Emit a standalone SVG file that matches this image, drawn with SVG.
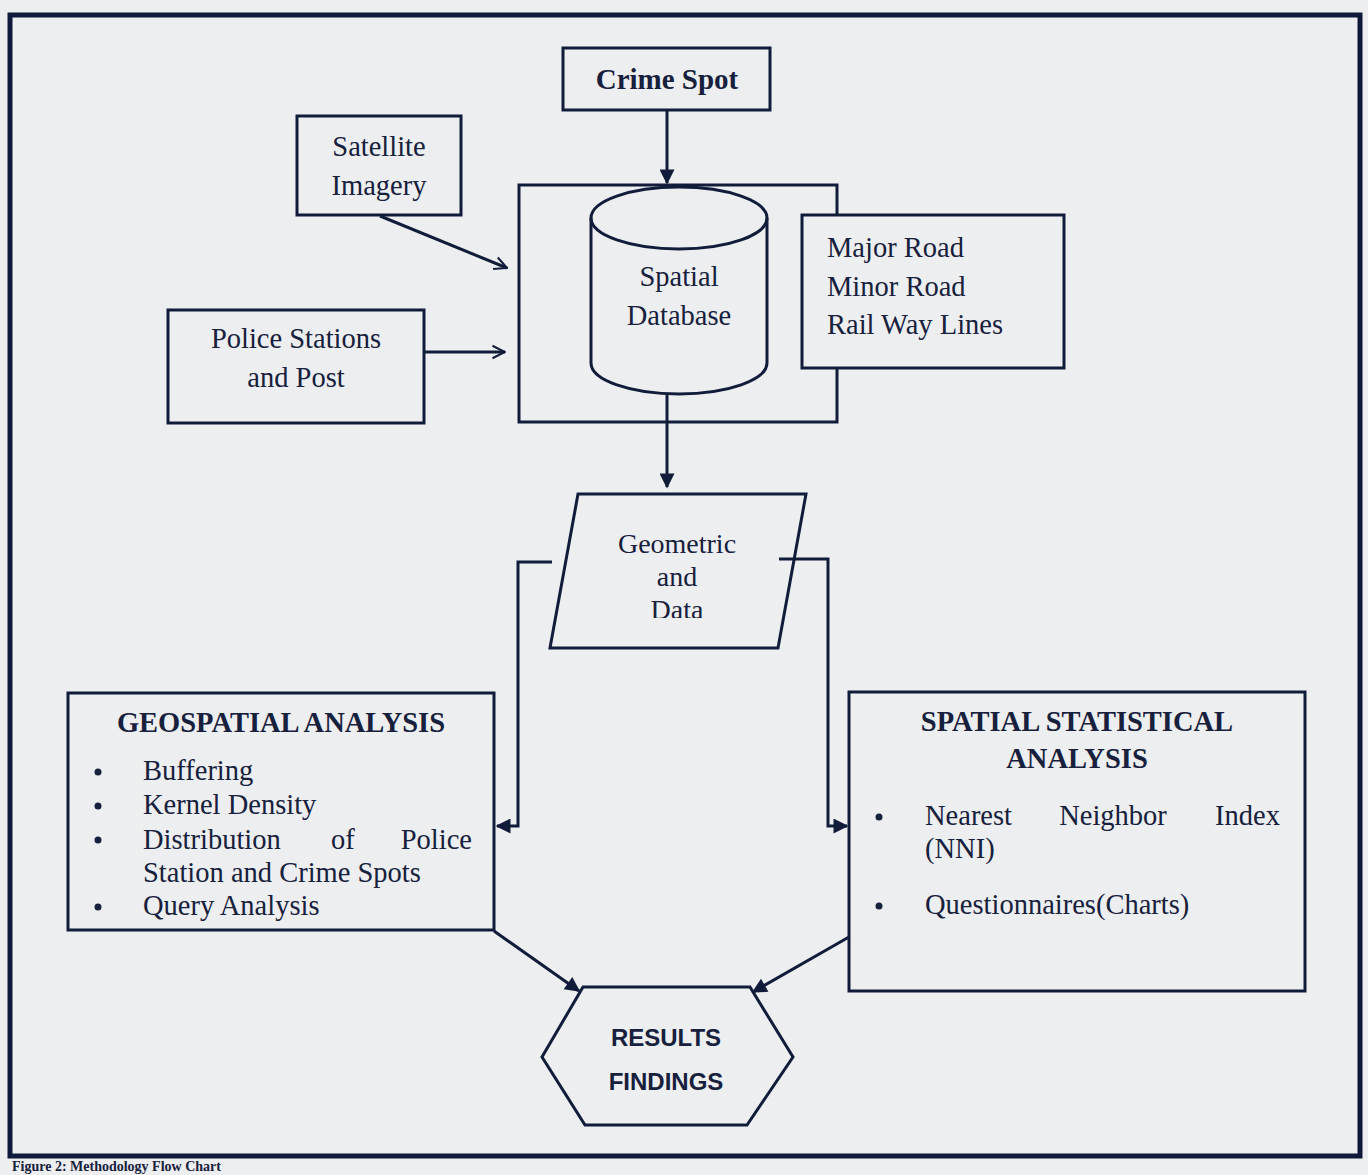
<svg xmlns="http://www.w3.org/2000/svg" width="1368" height="1175" viewBox="0 0 1368 1175">
<defs>
<style>
.bx{fill:none;stroke:#111c3a;stroke-width:3}
.ln{fill:none;stroke:#111c3a;stroke-width:3}
.t{font-family:"Liberation Serif","Times New Roman",serif;fill:#17203c;font-size:28.5px}
.c{text-anchor:middle}
.b{font-weight:bold}
.s{font-family:"Liberation Sans",Arial,sans-serif;font-weight:bold;fill:#17203c;font-size:24px;text-anchor:middle}
</style>
<marker id="fa" viewBox="0 0 10 10" refX="9" refY="5" markerWidth="5.5" markerHeight="5" orient="auto" markerUnits="strokeWidth">
<path d="M0,0 L10,5 L0,10 Z" fill="#111c3a"/>
</marker>
<marker id="oa" viewBox="0 0 12 12" refX="11" refY="6" markerWidth="5" markerHeight="6" orient="auto" markerUnits="strokeWidth">
<path d="M1,1 L11,6 L1,11" fill="none" stroke="#111c3a" stroke-width="1.6"/>
</marker>
<clipPath id="pc"><rect x="540" y="490" width="280" height="128"/></clipPath>
</defs>
<rect width="1368" height="1175" fill="#eceeef"/>
<rect x="10" y="15" width="1350" height="1141" fill="none" stroke="#0f1a3a" stroke-width="5"/>

<g id="crime-spot">
<rect class="bx" x="563" y="48" width="207" height="62"/>
<text class="t b c" x="667" y="89" style="font-size:29px">Crime Spot</text>
</g>
<g id="satellite-imagery">
<rect class="bx" x="297" y="116" width="164" height="99"/>
<text class="t c" x="379" y="156">Satellite</text>
<text class="t c" x="379" y="195">Imagery</text>
</g>
<g id="police-stations">
<rect class="bx" x="168" y="310" width="256" height="113"/>
<text class="t c" x="296" y="348">Police Stations</text>
<text class="t c" x="296" y="387">and Post</text>
</g>
<g id="spatial-database">
<rect class="bx" x="519" y="185" width="318" height="237"/>
<path class="bx" d="M591,218 A88,31 0 0 1 767,218 L767,363 A88,31 0 0 1 591,363 Z"/>
<path class="bx" d="M591,218 A88,31 0 0 0 767,218"/>
<text class="t c" x="679" y="286">Spatial</text>
<text class="t c" x="679" y="325">Database</text>
</g>
<g id="roads">
<rect class="bx" x="802" y="215" width="262" height="153" style="fill:#eceeef"/>
<text class="t" x="827" y="257">Major Road</text>
<text class="t" x="827" y="296">Minor Road</text>
<text class="t" x="827" y="334">Rail Way Lines</text>
</g>
<g id="geometric-data">
<path class="bx" d="M578,494 L806,494 L778,648 L550,648 Z"/>
<g clip-path="url(#pc)">
<text class="t c" x="677" y="553" style="font-size:28px">Geometric</text>
<text class="t c" x="677" y="586" style="font-size:28px">and</text>
<text class="t c" x="677" y="619" style="font-size:28px">Data</text>
</g>
</g>
<g id="geospatial-analysis">
<rect class="bx" x="68" y="693" width="426" height="237"/>
<text class="t b c" x="281" y="732">GEOSPATIAL ANALYSIS</text>
<circle cx="98" cy="772" r="3.5" fill="#17203c"/>
<circle cx="98" cy="806" r="3.5" fill="#17203c"/>
<circle cx="98" cy="840" r="3.5" fill="#17203c"/>
<circle cx="98" cy="907" r="3.5" fill="#17203c"/>
<text class="t" x="143" y="780">Buffering</text>
<text class="t" x="143" y="814">Kernel Density</text>
<text class="t" x="143" y="849">Distribution</text>
<text class="t" x="331" y="849">of</text>
<text class="t" x="472" y="849" text-anchor="end">Police</text>
<text class="t" x="143" y="882">Station and Crime Spots</text>
<text class="t" x="143" y="915">Query Analysis</text>
</g>
<g id="spatial-statistical-analysis">
<rect class="bx" x="849" y="692" width="456" height="299"/>
<text class="t b c" x="1077" y="731">SPATIAL STATISTICAL</text>
<text class="t b c" x="1077" y="768">ANALYSIS</text>
<circle cx="879" cy="817" r="3.5" fill="#17203c"/>
<circle cx="879" cy="906" r="3.5" fill="#17203c"/>
<text class="t" x="925" y="825">Nearest</text>
<text class="t" x="1113" y="825" text-anchor="middle">Neighbor</text>
<text class="t" x="1280" y="825" text-anchor="end">Index</text>
<text class="t" x="925" y="858">(NNI)</text>
<text class="t" x="925" y="914">Questionnaires(Charts)</text>
</g>
<g id="results-findings">
<path class="bx" d="M583,987 L750,987 L793,1057 L747,1125 L585,1125 L542,1057 Z"/>
<text class="s" x="666" y="1046">RESULTS</text>
<text class="s" x="666" y="1090">FINDINGS</text>
</g>

<g id="connectors">
<line class="ln" x1="667" y1="110" x2="667" y2="183" marker-end="url(#fa)"/>
<line class="ln" x1="380" y1="216" x2="507" y2="268" marker-end="url(#oa)"/>
<line class="ln" x1="424" y1="352" x2="505" y2="352" marker-end="url(#oa)"/>
<line class="ln" x1="667" y1="395" x2="667" y2="487" marker-end="url(#fa)"/>
<polyline class="ln" points="552,562 518,562 518,826 497,826" marker-end="url(#fa)"/>
<polyline class="ln" points="779,559 828,559 828,826 847,826" marker-end="url(#fa)"/>
<line class="ln" x1="494" y1="931" x2="579" y2="991" marker-end="url(#fa)"/>
<line class="ln" x1="849" y1="937" x2="753" y2="992" marker-end="url(#fa)"/>
</g>

<text class="t b" x="12" y="1171" style="font-size:14px">Figure 2: Methodology Flow Chart</text>
</svg>
